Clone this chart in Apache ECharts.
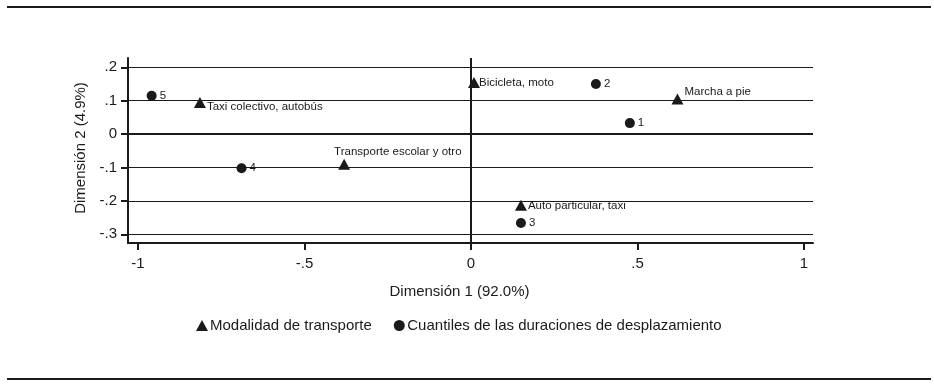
<!DOCTYPE html>
<html>
<head>
<meta charset="utf-8">
<script src="https://cdn.jsdelivr.net/npm/echarts@6/dist/echarts.min.js"></script>
<style>
html, body { margin: 0; padding: 0; background: #fff; }
#chart { width: 934px; height: 386px; }
</style>
</head>
<body>
<div id="chart"></div>
<script>
var chart = echarts.init(document.getElementById('chart'));

// Modalidad de transporte (triángulos)
var modalNames = ['Taxi colectivo, autobús', 'Transporte escolar y otro', 'Bicicleta, moto', 'Marcha a pie', 'Auto particular, taxi'];
var modalX = [-0.814, -0.381, 0.009, 0.62, 0.15];
var modalY = [0.095, -0.09, 0.155, 0.105, -0.213];
// Cuantiles de duración (círculos)
var quantNames = ['1', '2', '3', '4', '5'];
var quantX = [0.477, 0.375, 0.15, -0.689, -0.959];
var quantY = [0.033, 0.15, -0.266, -0.102, 0.115];
// ticks
var xTicks = [-1, -0.5, 0, 0.5, 1];
var yTicks = [-0.3, -0.2, -0.1, 0, 0.1, 0.2];

// desplazamiento de etiquetas (solo estilo)
var modalLabelOffset = [[0, 4], [-17, -12], [-2, 0], [0, -7], [0, 1]];

var ink = '#1a1a1a';
var font = 'Liberation Sans, Arial, sans-serif';

function fmt(v) {
    if (v === 0) return '0';
    return String(v).replace('0.', '.');
}

var modalData = [];
for (var i = 0; i < modalNames.length; i++) {
    modalData.push({
        name: modalNames[i],
        value: [modalX[i], modalY[i]],
        label: { offset: modalLabelOffset[i] }
    });
}
var quantData = [];
for (var j = 0; j < quantNames.length; j++) {
    quantData.push({ name: quantNames[j], value: [quantX[j], quantY[j]] });
}

// líneas de la cuadrícula
var gridLines = [];
yTicks.forEach(function (v) {
    if (v !== 0) gridLines.push({ yAxis: v, lineStyle: { width: 1 } });
});
gridLines.push({ yAxis: 0, lineStyle: { width: 2 } });
gridLines.push({ xAxis: 0, lineStyle: { width: 2 } });

var option = {
    animation: false,
    backgroundColor: '#fff',
    textStyle: { fontFamily: font },
    grid: { left: 128, right: 121, top: 58, bottom: 143 },
    xAxis: {
        type: 'value',
        min: -1.03,
        max: 1.027,
        name: 'Dimensión 1 (92.0%)',
        nameLocation: 'middle',
        nameGap: 41,
        nameTextStyle: { fontSize: 15, color: ink, fontFamily: font, padding: [0, 22, 0, 0] },
        axisLine: { show: true, onZero: false, lineStyle: { color: ink, width: 2 } },
        axisTick: { show: true, length: 7, customValues: xTicks, lineStyle: { color: ink, width: 2 } },
        axisLabel: { customValues: xTicks, formatter: fmt, fontSize: 15, color: ink, margin: 13, fontFamily: font },
        splitLine: { show: false }
    },
    yAxis: {
        type: 'value',
        min: -0.326,
        max: 0.228,
        name: 'Dimensión 2 (4.9%)',
        nameLocation: 'middle',
        nameGap: 29,
        nameTextStyle: { fontSize: 15, color: ink, fontFamily: font, padding: [0, 0, 0, 5] },
        axisLine: { show: true, onZero: false, lineStyle: { color: ink, width: 2 } },
        axisTick: { show: true, length: 7, customValues: yTicks, lineStyle: { color: ink, width: 2 } },
        axisLabel: { customValues: yTicks, formatter: fmt, fontSize: 15, color: ink, margin: 11, fontFamily: font },
        splitLine: { show: false }
    },
    legend: {
        left: 191,
        top: 313,
        itemWidth: 12,
        itemHeight: 11,
        itemGap: 22,
        textStyle: { fontSize: 15, color: ink, fontFamily: font, padding: [0, 0, 0, -3] },
        data: [
            { name: 'Modalidad de transporte', icon: 'triangle' },
            { name: 'Cuantiles de las duraciones de desplazamiento', icon: 'circle' }
        ]
    },
    series: [
        {
            name: 'Modalidad de transporte',
            type: 'scatter',
            symbol: 'triangle',
            symbolSize: [12, 11],
            itemStyle: { color: ink, opacity: 1 },
            label: {
                show: true,
                position: 'right',
                distance: 1,
                formatter: '{b}',
                fontSize: 11.5,
                color: ink,
                fontFamily: font
            },
            data: modalData,
            markLine: {
                silent: true,
                symbol: ['none', 'none'],
                label: { show: false },
                lineStyle: { color: ink, type: 'solid' },
                data: gridLines,
                z: 1
            },
            z: 5
        },
        {
            name: 'Cuantiles de las duraciones de desplazamiento',
            type: 'scatter',
            symbol: 'circle',
            symbolSize: 10,
            itemStyle: { color: ink, opacity: 1 },
            label: {
                show: true,
                position: 'right',
                distance: 3,
                formatter: '{b}',
                fontSize: 11.5,
                color: ink,
                fontFamily: font
            },
            data: quantData,
            z: 5
        }
    ],
    graphic: [
        { type: 'rect', shape: { x: 7, y: 6, width: 924, height: 2 }, style: { fill: ink } },
        { type: 'rect', shape: { x: 7, y: 378, width: 924, height: 2 }, style: { fill: ink } }
    ]
};
chart.setOption(option);
</script>
</body>
</html>
